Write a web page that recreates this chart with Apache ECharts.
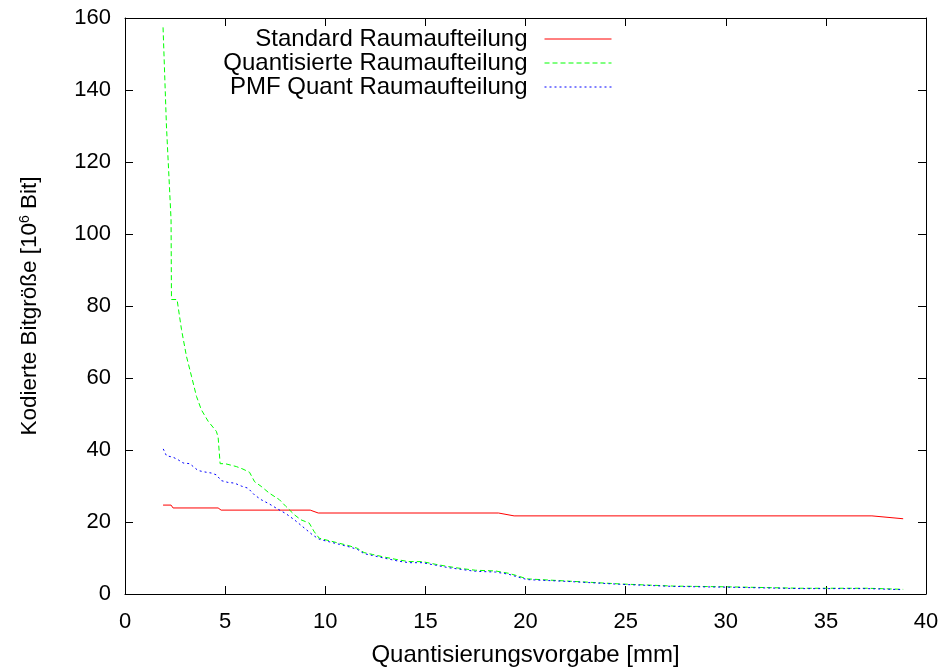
<!DOCTYPE html>
<html>
<head>
<meta charset="utf-8">
<script src="https://cdn.jsdelivr.net/npm/echarts@6/dist/echarts.min.js"></script>
<style>
html,body{margin:0;padding:0;background:#fff;}
#chart{width:946px;height:669px;}
</style>
</head>
<body>
<div id="chart"></div>
<script>
// ---- data ----
const xTicks = [0, 5, 10, 15, 20, 25, 30, 35, 40];
const yTicks = [0, 20, 40, 60, 80, 100, 120, 140, 160];

const seriesNames = ['Standard Raumaufteilung', 'Quantisierte Raumaufteilung', 'PMF Quant Raumaufteilung'];

const stdX = [1.9, 2.3, 2.4, 4.65, 4.8, 9.25, 9.65, 18.65, 19.43, 37.3, 38.86];
const stdY = [24.7, 24.7, 23.9, 23.9, 23.3, 23.3, 22.5, 22.5, 21.7, 21.7, 20.9];

const quantX = [1.9, 2.07, 2.3, 2.32, 2.6, 2.82, 3.07, 3.32, 3.57, 3.81, 4.15, 4.56, 4.65, 4.75, 5.0, 5.56, 5.89, 6.22, 6.47, 6.8, 7.21, 7.71, 8.04, 8.46, 8.79, 9.2, 9.45, 9.7, 10.2, 10.7, 11.19, 11.6, 11.94, 12.35, 13.0, 13.68, 14.18, 14.84, 15.5, 16.17, 16.83, 17.5, 18.5, 19.15, 19.57, 20.08, 22.08, 24.7, 27.4, 30.02, 33.73, 37.05, 38.86];
const quantY = [157.4, 130, 104, 81.8, 81.8, 73.5, 66, 60.5, 54.9, 51.2, 48, 45.2, 43.6, 36.2, 36.2, 35.4, 34.7, 33.8, 31.2, 29.9, 28.0, 26.2, 24.3, 22.0, 20.6, 19.7, 17.3, 15.5, 14.8, 14.1, 13.4, 12.7, 11.5, 11.0, 10.2, 9.46, 9.0, 9.0, 8.26, 7.6, 7.05, 6.6, 6.4, 5.76, 5.1, 4.2, 3.6, 2.8, 2.2, 2.0, 1.6, 1.6, 1.3];

const pmfX = [1.91, 2.07, 2.4, 2.65, 2.9, 3.23, 3.65, 3.98, 4.31, 4.56, 4.81, 5.14, 5.47, 5.8, 6.14, 6.47, 6.8, 7.21, 7.63, 8.04, 8.46, 8.96, 9.37, 9.7, 10.2, 10.7, 11.19, 11.6, 11.94, 12.35, 13.0, 13.68, 14.18, 14.84, 15.5, 16.17, 16.83, 17.5, 18.5, 19.15, 19.57, 20.08, 22.08, 24.7, 27.4, 30.02, 33.73, 37.05, 38.86];
const pmfY = [40.3, 38.4, 38.0, 37.3, 36.4, 36.2, 34.3, 33.9, 33.6, 33.1, 31.5, 31.0, 30.8, 30.0, 29.4, 27.5, 26.2, 25.0, 23.6, 22.3, 20.6, 18.3, 16.4, 15.2, 14.5, 13.8, 13.1, 12.4, 11.2, 10.7, 9.9, 9.1, 8.7, 8.7, 8.0, 7.3, 6.8, 6.3, 6.1, 5.5, 4.8, 4.0, 3.5, 2.7, 2.1, 1.9, 1.5, 1.5, 1.2];

// ---- build ----
const zip = (xs, ys) => xs.map((x, i) => [x, ys[i]]);
const FONT = "'Liberation Sans', Arial, Helvetica, sans-serif";
const FS = 22;      // tick labels
const FS_TXT = 24;  // legend and x axis title
const FS_Y = 22.5;  // y axis title

function axisCommon(showLabel, extra) {
  return Object.assign({
    type: 'value',
    axisLine: { show: true, onZero: false, lineStyle: { color: '#000', width: 1 } },
    axisTick: { show: true, inside: true, length: 8, lineStyle: { color: '#000', width: 1 } },
    splitLine: { show: false },
    axisLabel: { show: showLabel, color: '#000', fontSize: FS, fontFamily: FONT }
  }, extra);
}

const xRange = { min: xTicks[0], max: xTicks[xTicks.length - 1], interval: xTicks[1] - xTicks[0] };
const yRange = { min: yTicks[0], max: yTicks[yTicks.length - 1], interval: yTicks[1] - yTicks[0] };

const legendRows = [27, 51, 75];
const legends = seriesNames.map((n, i) => ({
  data: [n],
  orient: 'vertical',
  align: 'right',
  right: 334,
  top: legendRows[i],
  padding: 0,
  itemWidth: 67,
  itemHeight: 14,
  selectedMode: false,
  itemStyle: { color: 'rgba(0,0,0,0)', borderWidth: 0, opacity: 0 },
  lineStyle: { width: 1 },
  textStyle: { color: '#000', fontSize: FS_TXT, fontFamily: FONT, lineHeight: 24, padding: [0, 12, 0, 0] }
}));

const chart = echarts.init(document.getElementById('chart'), null, { renderer: 'canvas' });
chart.setOption({
  animation: false,
  backgroundColor: '#fff',
  grid: { left: 125, right: 20, top: 18, bottom: 75, containLabel: false, outerBoundsMode: 'none' },
  legend: legends,
  xAxis: [
    axisCommon(true, Object.assign({
      position: 'bottom',
      name: 'Quantisierungsvorgabe [mm]',
      nameLocation: 'middle',
      nameGap: 49,
      nameTextStyle: { color: '#000', fontSize: FS_TXT, fontFamily: FONT },
      axisLabel: { show: true, color: '#000', fontSize: FS, fontFamily: FONT, margin: 17 }
    }, xRange)),
    axisCommon(false, Object.assign({ position: 'top' }, xRange))
  ],
  yAxis: [
    axisCommon(true, Object.assign({
      position: 'left',
      name: 'Kodierte Bitgröße [10{sup|6} Bit]',
      nameLocation: 'middle',
      nameGap: 84,
      nameTextStyle: {
        color: '#000', fontSize: FS_Y, fontFamily: FONT,
        rich: { sup: { fontSize: 14, fontFamily: FONT, color: '#000', verticalAlign: 'top', padding: [0, 0, 8, 0] } }
      },
      axisLabel: { show: true, color: '#000', fontSize: FS, fontFamily: FONT, margin: 14 }
    }, yRange)),
    axisCommon(false, Object.assign({ position: 'right' }, yRange))
  ],
  series: [
    {
      name: seriesNames[0], type: 'line', xAxisIndex: 0, yAxisIndex: 0,
      data: zip(stdX, stdY), symbol: 'none', z: 2,
      lineStyle: { color: '#ff0000', width: 1, type: 'solid' },
      itemStyle: { color: '#ff0000' }
    },
    {
      name: seriesNames[1], type: 'line', xAxisIndex: 0, yAxisIndex: 0,
      data: zip(quantX, quantY), symbol: 'none', z: 3,
      lineStyle: { color: '#00ff00', width: 1, type: [5, 3] },
      itemStyle: { color: '#00ff00' }
    },
    {
      name: seriesNames[2], type: 'line', xAxisIndex: 0, yAxisIndex: 0,
      data: zip(pmfX, pmfY), symbol: 'none', z: 4,
      lineStyle: { color: '#0000ff', width: 1, type: [2, 3] },
      itemStyle: { color: '#0000ff' }
    }
  ]
});
</script>
</body>
</html>
